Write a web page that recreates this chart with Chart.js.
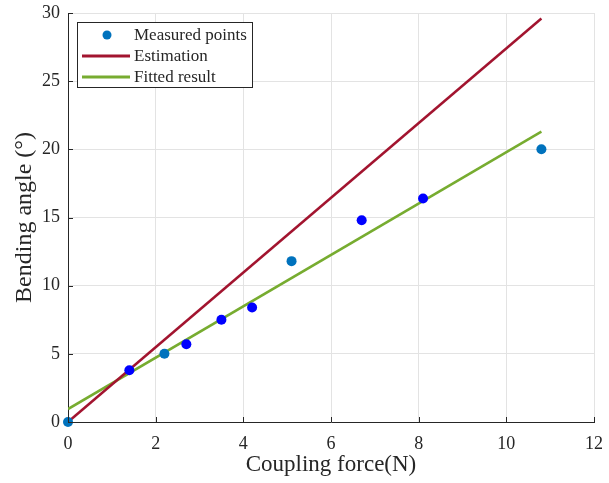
<!DOCTYPE html>
<html>
<head>
<meta charset="utf-8">
<script src="https://cdn.jsdelivr.net/npm/chart.js@4"></script>
<style>
  html, body { margin: 0; padding: 0; background: #fff; }
  #wrap { width: 609px; height: 483px; }
</style>
</head>
<body>
<div id="wrap"><canvas id="chart"></canvas></div>
<script>
// measured data
const forceN = [0, 1.4, 2.2, 2.7, 3.5, 4.2, 5.1, 6.7, 8.1, 10.8];
const angleDeg = [0, 3.8, 5.0, 5.7, 7.5, 8.4, 11.8, 14.8, 16.4, 20.0];
const pointColors = ['#0072BD', '#0000FF', '#0072BD', '#0000FF', '#0000FF', '#0000FF', '#0072BD', '#0000FF', '#0000FF', '#0072BD'];

// line end points
const estimX = [0, 10.8];
const estimY = [0, 29.6];
const fitX = [0, 10.8];
const fitY = [0.95, 21.3];

const xTicks = [0, 2, 4, 6, 8, 10, 12];
const yTicks = [0, 5, 10, 15, 20, 25, 30];

const serif = '"Liberation Serif", "Times New Roman", serif';

function toPoints(xs, ys) {
  return xs.map((x, i) => ({ x: x, y: ys[i] }));
}

// inward tick marks, MATLAB style
const innerTicks = {
  id: 'innerTicks',
  afterDatasetsDraw(chart) {
    const { ctx, chartArea, scales } = chart;
    ctx.save();
    ctx.strokeStyle = '#262626';
    ctx.lineWidth = 1;
    ctx.beginPath();
    xTicks.forEach(v => {
      const px = Math.round(scales.x.getPixelForValue(v)) + 0.5;
      ctx.moveTo(px, chartArea.bottom);
      ctx.lineTo(px, chartArea.bottom - 5);
    });
    yTicks.forEach(v => {
      const py = Math.round(scales.y.getPixelForValue(v)) + 0.5;
      ctx.moveTo(chartArea.left, py);
      ctx.lineTo(chartArea.left + 5, py);
    });
    ctx.stroke();
    ctx.restore();
  }
};

// legend box in the upper-left corner
const boxLegend = {
  id: 'boxLegend',
  afterDraw(chart) {
    const { ctx, chartArea } = chart;
    const x0 = chartArea.left + 9, y0 = chartArea.top + 9;
    const w = 175, h = 65;
    ctx.save();
    ctx.fillStyle = '#fff';
    ctx.fillRect(x0, y0, w, h);
    ctx.strokeStyle = '#262626';
    ctx.lineWidth = 1;
    ctx.strokeRect(x0 + 0.5, y0 + 0.5, w, h);
    const items = chart.data.datasets;
    ctx.font = '17px ' + serif;
    ctx.textBaseline = 'middle';
    items.forEach((ds, i) => {
      const cy = y0 + 13 + i * 21;
      if (ds.type === 'scatter') {
        ctx.fillStyle = '#0072BD';
        ctx.beginPath();
        ctx.arc(x0 + 30, cy, 4.5, 0, Math.PI * 2);
        ctx.fill();
      } else {
        ctx.strokeStyle = ds.borderColor;
        ctx.lineWidth = 3;
        ctx.beginPath();
        ctx.moveTo(x0 + 5, cy);
        ctx.lineTo(x0 + 53, cy);
        ctx.stroke();
      }
      ctx.fillStyle = '#262626';
      ctx.fillText(ds.label, x0 + 57, cy + 1);
    });
    ctx.restore();
  }
};

new Chart(document.getElementById('chart'), {
  data: {
    datasets: [
      {
        type: 'scatter',
        label: 'Measured points',
        data: toPoints(forceN, angleDeg),
        pointRadius: 5,
        pointHoverRadius: 5,
        pointBackgroundColor: pointColors,
        pointBorderWidth: 0,
        clip: false,
        order: 0
      },
      {
        type: 'line',
        label: 'Estimation',
        data: toPoints(estimX, estimY),
        borderColor: '#A2142F',
        borderWidth: 2.5,
        pointRadius: 0,
        order: 1
      },
      {
        type: 'line',
        label: 'Fitted result',
        data: toPoints(fitX, fitY),
        borderColor: '#77AC30',
        borderWidth: 2.5,
        pointRadius: 0,
        order: 2
      }
    ]
  },
  options: {
    responsive: true,
    maintainAspectRatio: false,
    animation: false,
    layout: { padding: { top: 13, right: 15, left: 0, bottom: 0 } },
    plugins: {
      legend: { display: false },
      tooltip: { enabled: false }
    },
    scales: {
      x: {
        type: 'linear',
        min: 0,
        max: 12,
        afterBuildTicks(scale) { scale.ticks = xTicks.map(v => ({ value: v })); },
        afterFit(scale) {
          scale.height = 61;
          scale.paddingLeft = 0;
          scale.paddingRight = 0;
        },
        grid: { color: '#e3e3e3', drawTicks: false },
        border: { color: '#262626', width: 1 },
        ticks: { color: '#262626', padding: 11, font: { family: serif, size: 18 } },
        title: {
          display: true,
          text: 'Coupling force(N)',
          color: '#262626',
          padding: { top: 3 },
          font: { family: serif, size: 23 }
        }
      },
      y: {
        type: 'linear',
        min: 0,
        max: 30,
        afterBuildTicks(scale) { scale.ticks = yTicks.map(v => ({ value: v })); },
        afterFit(scale) {
          scale.width = 68;
          scale.paddingTop = 0;
          scale.paddingBottom = 0;
        },
        grid: { color: '#e3e3e3', drawTicks: false },
        border: { color: '#262626', width: 1 },
        ticks: { color: '#262626', padding: 8, font: { family: serif, size: 18 } },
        title: {
          display: true,
          text: 'Bending angle (°)',
          color: '#262626',
          padding: { top: 10, bottom: 0 },
          font: { family: serif, size: 24 }
        }
      }
    }
  },
  plugins: [innerTicks, boxLegend]
});
</script>
</body>
</html>
